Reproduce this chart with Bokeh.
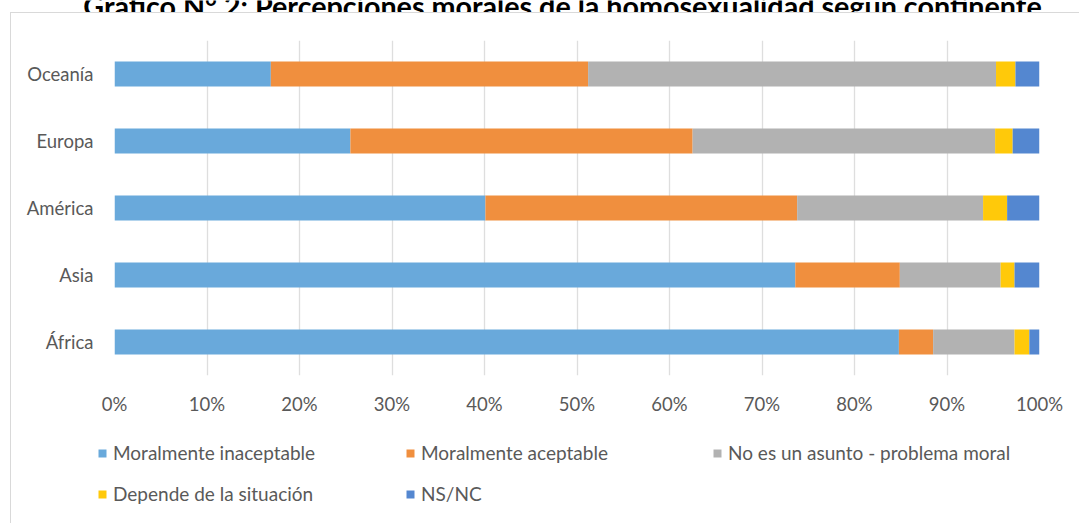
from bokeh.plotting import figure
from bokeh.layouts import column
from bokeh.models import FactorRange, Range1d, FixedTicker, Legend, LegendItem
from bokeh.core.properties import value
from bokeh.embed import file_html
from bokeh.resources import INLINE

continents = ["África", "Asia", "América", "Europa", "Oceanía"]
series = ["Moralmente inaceptable", "Moralmente aceptable",
          "No es un asunto - problema moral", "Depende de la situación", "NS/NC"]
inaceptable = [84.8, 73.6, 40.1, 25.5, 16.9]
aceptable = [3.7, 11.3, 33.7, 37.0, 34.3]
no_asunto = [8.8, 10.9, 20.1, 32.7, 44.1]
depende = [1.6, 1.5, 2.6, 1.9, 2.1]
nsnc = [1.1, 2.7, 3.5, 2.9, 2.6]
tick_values = [0, 10, 20, 30, 40, 50, 60, 70, 80, 90, 100]
tick_labels = ["0%", "10%", "20%", "30%", "40%", "50%", "60%", "70%", "80%", "90%", "100%"]
title_text = "Gráfico N° 2: Percepciones morales de la homosexualidad según continente"

colors = ["#69a9db", "#f08f3e", "#b2b2b2", "#ffc90a", "#5487d0"]
FONT = "Lato"
GREY = "#595959"
BORDER = "1px solid #d9d9d9"

data = {"cont": continents}
keys = ["s0", "s1", "s2", "s3", "s4"]
for k, v in zip(keys, [inaceptable, aceptable, no_asunto, depende, nsnc]):
    data[k] = v

# ---- title strip (cut at the top, as in the reference) ----
TW, TH = 1079, 12
tf = figure(width=TW, height=TH, x_range=Range1d(0, TW), y_range=Range1d(TH, 0),
            output_backend="svg", toolbar_location=None, min_border=0)
tf.axis.visible = False
tf.grid.grid_line_color = None
tf.outline_line_color = None
tf.text(x=[562], y=[5], text=[title_text], text_align="center", text_baseline="alphabetic",
        text_font=value(FONT), text_font_style="bold", text_font_size="28.7px",
        text_color="#000000")

# ---- main chart ----
MW, MH = 1068, 407
yr = FactorRange(factors=continents, range_padding=0)
xr = Range1d(0, 100)
p = figure(width=MW, height=MH, output_backend="svg", toolbar_location=None,
           y_range=yr, x_range=xr,
           min_border_left=103, min_border_right=40, min_border_top=27, min_border_bottom=45)
p.outline_line_color = None
p.hbar_stack(keys, y="cont", height=0.37, color=colors, line_color=None, source=data)

p.xaxis.ticker = FixedTicker(ticks=tick_values)
p.xaxis.major_label_overrides = {t: l for t, l in zip(tick_values, tick_labels)}
for ax in (p.xaxis[0], p.yaxis[0]):
    ax.axis_line_color = None
    ax.major_tick_line_color = None
    ax.minor_tick_line_color = None
    ax.major_tick_out = 0
    ax.major_tick_in = 0
    ax.major_label_text_font = FONT
    ax.major_label_text_font_size = "18.5px"
    ax.major_label_text_color = GREY
p.xaxis.major_label_standoff = 17
p.yaxis.major_label_standoff = 21
p.ygrid.grid_line_color = None
p.xgrid.grid_line_color = "#dedede"
p.xgrid.grid_line_width = 1.3

# ---- legend strip ----
LH = 103
lf = figure(width=MW, height=LH, x_range=xr, y_range=yr,
            output_backend="svg", toolbar_location=None, min_border=0)
lf.axis.visible = False
lf.grid.grid_line_color = None
lf.outline_line_color = None
lrs = lf.hbar_stack(keys, y="cont", height=0.37, color=colors, line_color=None, source=data)
for r in lrs:
    r.visible = False
positions = [(86, 59), (394, 59), (701, 59), (86, 18), (394, 18)]
for name, r, pos in zip(series, lrs, positions):
    lg = Legend(items=[LegendItem(label=name, renderers=[r])], location=pos,
                glyph_width=10, glyph_height=10, label_standoff=6, padding=0, margin=0,
                spacing=0, border_line_color=None, background_fill_alpha=0,
                label_text_font=FONT, label_text_font_size="19px", label_text_color=GREY,
                label_height=20)
    lf.add_layout(lg, "center")

main_box = column(p, styles={"border-left": BORDER, "border-top": BORDER, "margin-left": "10px"})
leg_box = column(lf, styles={"border-left": BORDER, "margin-left": "10px"})
layout = column(tf, main_box, leg_box, spacing=0)
open("out.html", "w").write(file_html(layout, INLINE))
